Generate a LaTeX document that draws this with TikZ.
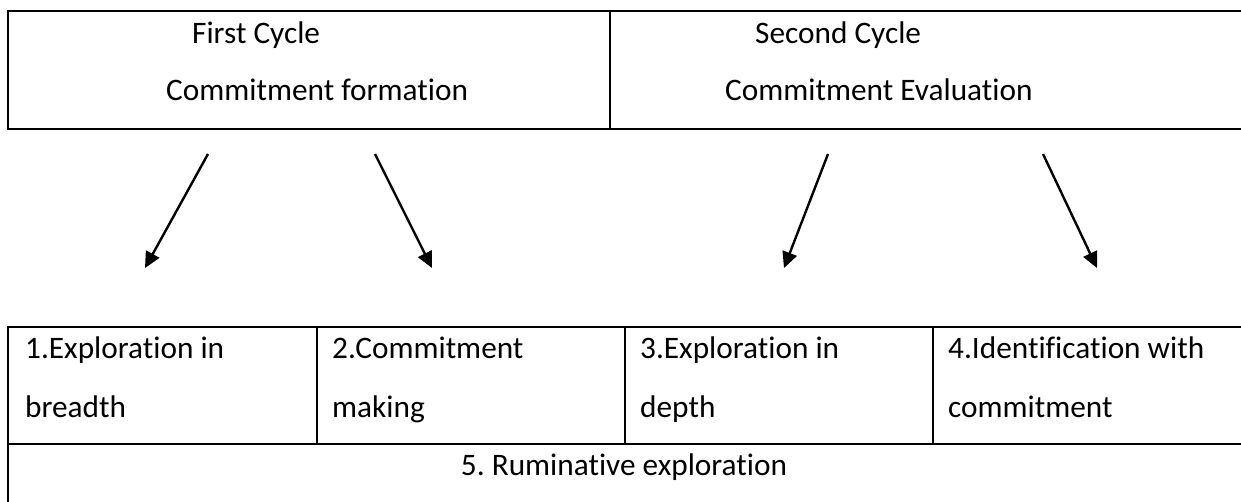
\documentclass[tikz,border=0pt]{standalone}
\usepackage{fontspec}
\setmainfont{Carlito}[Ligatures=NoCommon]
\usetikzlibrary{positioning, arrows.meta}
\frenchspacing

\begin{document}
\begin{tikzpicture}[x=1pt, y=-1pt, node distance=0pt]
      \tikzstyle{cell} = [rectangle, draw=black, line width=2.8pt, inner sep=0pt, outer sep=0pt, minimum height=117pt]
      \tikzstyle{txt} = [anchor=base west, inner sep=0pt, font=\fontsize{31.3}{37}\selectfont]
      \tikzstyle{arrow} = [line width=2.4pt, -{Triangle[length=16pt, width=15pt]}]

      \useasboundingbox (0,0) rectangle (1241,501);

      \node (first) [cell, minimum width=602pt, minimum height=118pt] at (309,70) {};
      \node (second) [cell, minimum width=640pt, minimum height=118pt, right= of first] {};

      \node (firsttitle) [txt] at (192,43) {First Cycle};
      \node (formation) [txt] at (166,100) {Commitment formation};
      \node (secondtitle) [txt] at (755,43) {Second Cycle};
      \node (evaluation) [txt] at (725,100) {Commitment Evaluation};

      \coordinate (breadthtop) at (208,154);
      \coordinate (breadthtip) at (145,268);
      \coordinate (makingtop) at (375,154);
      \coordinate (makingtip) at (432,268);
      \coordinate (depthtop) at (828,154);
      \coordinate (depthtip) at (784,268);
      \coordinate (identtop) at (1043,154);
      \coordinate (identtip) at (1097,268);

      \draw [arrow] (breadthtop) -- (breadthtip);
      \draw [arrow] (makingtop) -- (makingtip);
      \draw [arrow] (depthtop) -- (depthtip);
      \draw [arrow] (identtop) -- (identtip);

      \node (breadth) [cell, minimum width=309pt] at (162.5,385.5) {};
      \node (making) [cell, minimum width=308pt, right= of breadth] {};
      \node (depth) [cell, minimum width=308pt, right= of making] {};
      \node (ident) [cell, minimum width=320pt, right= of depth] {};
      \node (ruminative) [cell, anchor=north west, minimum width=1250pt, minimum height=100pt] at (breadth.south west) {};

      \node (breadthA) [txt] at (25,358) {1.Exploration in};
      \node (breadthB) [txt] at (25,417) {breadth};
      \node (makingA) [txt] at (332,358) {2.Commitment};
      \node (makingB) [txt] at (332,417) {making};
      \node (depthA) [txt] at (640,358) {3.Exploration in};
      \node (depthB) [txt] at (640,417) {depth};
      \node (identA) [txt] at (948,358) {4.Identification with};
      \node (identB) [txt] at (948,417) {commitment};
      \node (ruminativeA) [txt, anchor=base] at (624,475) {5. Ruminative exploration};

    \end{tikzpicture}
\end{document}
